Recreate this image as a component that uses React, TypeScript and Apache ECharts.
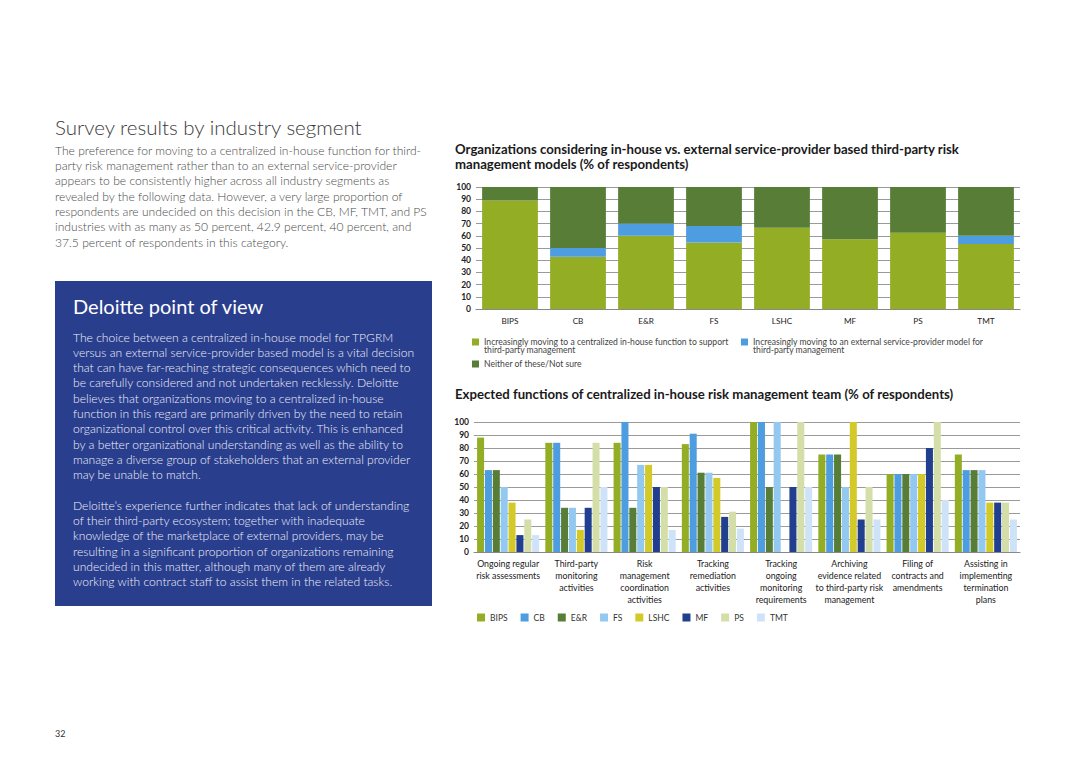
import React, { useEffect, useRef } from "react";
import * as echarts from "echarts";

// ---------- Data ----------
const industries = ["BIPS", "CB", "E&R", "FS", "LSHC", "MF", "PS", "TMT"];
const modelSeriesNames = [
  "Increasingly moving to a centralized in-house function to support\nthird-party management",
  "Increasingly moving to an external service-provider model for\nthird-party management",
  "Neither of these/Not sure",
];
const inHouse = [88.9, 42.9, 60, 54.5, 66.7, 57.1, 62.5, 53.3];
const external = [0, 7.1, 10, 13.6, 0, 0, 0, 6.7];
const neither = [11.1, 50, 30, 31.9, 33.3, 42.9, 37.5, 40];

const functionsList = [
  "Ongoing regular\nrisk assessments",
  "Third-party\nmonitoring\nactivities",
  "Risk\nmanagement\ncoordination\nactivities",
  "Tracking\nremediation\nactivities",
  "Tracking\nongoing\nmonitoring\nrequirements",
  "Archiving\nevidence related\nto third-party risk\nmanagement",
  "Filing of\ncontracts and\namendments",
  "Assisting in\nimplementing\ntermination\nplans",
];
const fnBIPS = [88, 84, 84, 83, 100, 75, 60, 75];
const fnCB = [63, 84, 100, 91, 100, 75, 60, 63];
const fnER = [63, 34, 34, 61, 50, 75, 60, 63];
const fnFS = [50, 34, 67, 61, 100, 50, 60, 63];
const fnLSHC = [38, 17, 67, 57, 0, 100, 60, 38];
const fnMF = [13, 34, 50, 27, 50, 25, 80, 38];
const fnPS = [25, 84, 50, 31, 100, 50, 100, 38];
const fnTMT = [13, 50, 17, 18, 50, 25, 40, 25];
const fnValues = [fnBIPS, fnCB, fnER, fnFS, fnLSHC, fnMF, fnPS, fnTMT];

// ---------- Styles ----------
const FONT = "Lato, 'Open Sans', sans-serif";
const modelColors = ["#93ae25", "#4d9de0", "#577d37"];
const industryColors = ["#93ae25", "#4d9de0", "#577d37", "#93c9f0", "#d3ca2a", "#213f8e", "#d4dea8", "#cfe3f8"];

const introText = [
  "The preference for moving to a centralized in-house function for third-",
  "party risk management rather than to an external service-provider",
  "appears to be consistently higher across all industry segments as",
  "revealed by the following data. However, a very large proportion of",
  "respondents are undecided on this decision in the CB, MF, TMT, and PS",
  "industries with as many as 50 percent, 42.9 percent, 40 percent, and",
  "37.5 percent of respondents in this category.",
].join("\n");

const povText = [
  "The choice between a centralized in-house model for TPGRM",
  "versus an external service-provider based model is a vital decision",
  "that can have far-reaching strategic consequences which need to",
  "be carefully considered and not undertaken recklessly. Deloitte",
  "believes that organizations moving to a centralized in-house",
  "function in this regard are primarily driven by the need to retain",
  "organizational control over this critical activity. This is enhanced",
  "by a better organizational understanding as well as the ability to",
  "manage a diverse group of stakeholders that an external provider",
  "may be unable to match.",
  "",
  "Deloitte\u2019s experience further indicates that lack of understanding",
  "of their third-party ecosystem; together with inadequate",
  "knowledge of the marketplace of external providers, may be",
  "resulting in a significant proportion of organizations remaining",
  "undecided in this matter, although many of them are already",
  "working with contract staff to assist them in the related tasks.",
].join("\n");

function txt(x: number, y: number, text: string, font: string, fill: string, lineHeight?: number, va = "top") {
  return {
    type: "text",
    x,
    y,
    silent: true,
    style: {
      text,
      font,
      fill,
      lineHeight,
      align: "left",
      verticalAlign: va,
      textAlign: "left",
      textVerticalAlign: va,
    },
  };
}

const firstLine = (name: string) => name.split("\n")[0];
const secondLine = (name: string) => name.split("\n")[1] || "";

export default function App() {
  const ref = useRef<HTMLDivElement>(null);

  useEffect(() => {
    if (!ref.current) return;
    const chart = echarts.init(ref.current, undefined, { renderer: "svg" });

    const axisLabelY = { fontSize: 8.5, fontWeight: "bold", color: "#222", fontFamily: FONT, margin: 5 };
    const legendText = { fontFamily: FONT, fontSize: 8.6, color: "#444" };

    const option: any = {
      animation: false,
      backgroundColor: "#ffffff",
      title: [
        {
          text: "Organizations considering in-house vs. external service-provider based third-party risk\nmanagement models (% of respondents)",
          left: 455,
          top: 141,
          padding: 0,
          textStyle: { fontFamily: FONT, fontSize: 13.2, fontWeight: "bold", color: "#1a1a1a", lineHeight: 15.5 },
        },
        {
          text: "Expected functions of centralized in-house risk management team (% of respondents)",
          left: 455,
          top: 387,
          padding: 0,
          textStyle: { fontFamily: FONT, fontSize: 13.2, fontWeight: "bold", color: "#1a1a1a" },
        },
      ],
      legend: [
        {
          data: [modelSeriesNames[0]],
          formatter: firstLine,
          left: 472,
          top: 337.5,
          padding: 0,
          itemWidth: 7,
          itemHeight: 7,
          icon: "rect",
          textStyle: legendText,
        },
        {
          data: [modelSeriesNames[1]],
          formatter: firstLine,
          left: 741,
          top: 337.5,
          padding: 0,
          itemWidth: 7,
          itemHeight: 7,
          icon: "rect",
          textStyle: legendText,
        },
        {
          data: [modelSeriesNames[2]],
          left: 472,
          top: 359.5,
          padding: 0,
          itemWidth: 7,
          itemHeight: 7,
          icon: "rect",
          textStyle: legendText,
        },
        {
          data: industries,
          left: 477,
          top: 613,
          padding: 0,
          itemWidth: 8,
          itemHeight: 8,
          itemGap: 13,
          icon: "rect",
          textStyle: { fontFamily: FONT, fontSize: 8.5, color: "#333" },
        },
      ],
      grid: [
        { left: 476, right: 60, top: 187, height: 122, containLabel: false },
        { left: 474, right: 60, top: 422, height: 130, containLabel: false },
      ],
      xAxis: [
        {
          type: "category",
          gridIndex: 0,
          data: industries,
          axisTick: { show: false },
          axisLine: { lineStyle: { color: "#888", width: 1 } },
          axisLabel: { fontFamily: FONT, fontSize: 8.2, color: "#222", margin: 8 },
        },
        {
          type: "category",
          gridIndex: 1,
          data: functionsList,
          axisTick: { show: false },
          axisLine: { lineStyle: { color: "#888", width: 1 } },
          axisLabel: { fontFamily: FONT, fontSize: 8.8, color: "#222", margin: 5, lineHeight: 12, interval: 0 },
        },
      ],
      yAxis: [
        {
          type: "value",
          gridIndex: 0,
          min: 0,
          max: 100,
          interval: 10,
          axisLine: { show: false },
          axisTick: { show: false },
          axisLabel: axisLabelY,
          splitLine: { lineStyle: { color: "#9a9a9a", width: 1 } },
        },
        {
          type: "value",
          gridIndex: 1,
          min: 0,
          max: 100,
          interval: 10,
          axisLine: { show: false },
          axisTick: { show: false },
          axisLabel: axisLabelY,
          splitLine: { lineStyle: { color: "#9a9a9a", width: 1 } },
        },
      ],
      series: [
        ...[inHouse, external, neither].map((vals, i) => ({
          type: "bar",
          name: modelSeriesNames[i],
          xAxisIndex: 0,
          yAxisIndex: 0,
          stack: "model",
          barCategoryGap: "18%",
          data: vals,
          itemStyle: { color: modelColors[i] },
        })),
        ...fnValues.map((vals, i) => ({
          type: "bar",
          name: industries[i],
          xAxisIndex: 1,
          yAxisIndex: 1,
          barGap: "12%",
          barCategoryGap: "9%",
          data: vals,
          itemStyle: { color: industryColors[i] },
        })),
      ],
      graphic: [
        txt(55, 127, "Survey results by industry segment", `300 20.5px ${FONT}`, "#3a3a3a", undefined, "middle"),
        txt(55, 142.5, introText, `300 12.1px ${FONT}`, "#4a4a4a", 15.35),
        {
          type: "rect",
          silent: true,
          z: -1,
          shape: { x: 55, y: 281, width: 377, height: 325 },
          style: { fill: "#2a3e8e" },
        },
        txt(73, 306, "Deloitte point of view", `20px ${FONT}`, "#ffffff", undefined, "middle"),
        txt(73, 329.4, povText, `300 12.1px ${FONT}`, "#eef0f8", 15.3),
        txt(484, 350, secondLine(modelSeriesNames[0]), `8.6px ${FONT}`, "#444", undefined, "middle"),
        txt(753, 350, secondLine(modelSeriesNames[1]), `8.6px ${FONT}`, "#444", undefined, "middle"),
        txt(55, 733, "32", `9px ${FONT}`, "#333", undefined, "middle"),
      ],
    };

    chart.setOption(option);
    return () => chart.dispose();
  }, []);

  return (
    <div
      ref={ref}
      style={{ position: "absolute", left: 0, top: 0, width: 1080, height: 763, background: "#fff" }}
    />
  );
}
